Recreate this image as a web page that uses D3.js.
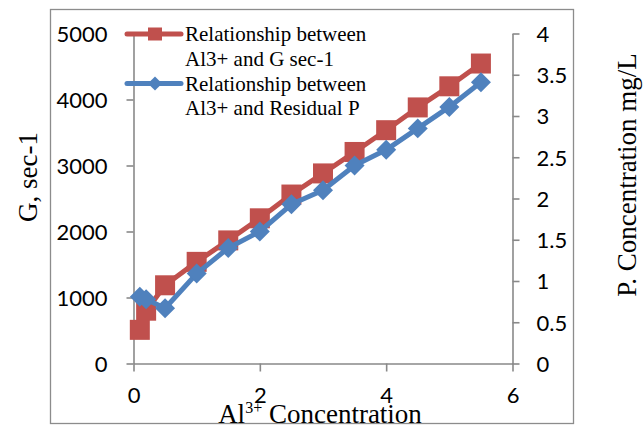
<!DOCTYPE html>
<html>
<head>
<meta charset="utf-8">
<script src="https://cdn.jsdelivr.net/npm/d3@7"></script>
<style>
  html, body { margin: 0; padding: 0; background: #fff; }
  svg { display: block; }
</style>
</head>
<body>
<div id="chart"></div>
<script>
// ---- data ----
const alConc = [0.1, 0.2, 0.5, 1, 1.5, 2, 2.5, 3, 3.5, 4, 4.5, 5, 5.5];
const gValues = [510, 800, 1185, 1540, 1865, 2200, 2560, 2880, 3205, 3535, 3880, 4200, 4545];
const pValues = [0.81, 0.78, 0.67, 1.09, 1.40, 1.60, 1.93, 2.10, 2.40, 2.59, 2.85, 3.11, 3.41];
const xTicks = [0, 2, 4, 6];
const leftTicks = [0, 1000, 2000, 3000, 4000, 5000];
const rightTicks = [0, 0.5, 1, 1.5, 2, 2.5, 3, 3.5, 4];
const seriesNames = [
  ["Relationship between", "Al3+ and G sec-1"],
  ["Relationship between", "Al3+ and Residual P"]
];

const W = 644, H = 427;
const red = "#C0504D", blue = "#4F81BD", axisCol = "#898989";
const tickFont = "Lato, 'Open Sans', sans-serif";
const serif = "'Liberation Serif', 'Times New Roman', serif";

const svg = d3.select("#chart").append("svg").attr("width", W).attr("height", H);

// chart border
svg.append("rect").attr("x", 50.5).attr("y", 9.5).attr("width", 523).attr("height", 414)
  .attr("fill", "none").attr("stroke", "#8c8c8c").attr("stroke-width", 1.3);

const x = d3.scaleLinear().domain([0, 6]).range([133.5, 512.5]);
const yL = d3.scaleLinear().domain([0, 5000]).range([363.5, 33.5]);
const yR = d3.scaleLinear().domain([0, 4]).range([363.5, 33.5]);

function styleAxis(g) {
  g.select(".domain").attr("stroke", axisCol).attr("stroke-width", 1.6);
  g.selectAll(".tick line").attr("stroke", axisCol).attr("stroke-width", 1.6);
  g.selectAll(".tick text").attr("fill", "#000").attr("font-family", tickFont).attr("font-size", 22);
}

// left axis
const gl = svg.append("g").attr("transform", `translate(${x(0)},0)`)
  .call(d3.axisLeft(yL).tickValues(leftTicks).tickSize(7).tickSizeOuter(0).tickPadding(19).tickFormat(d3.format("d")));
styleAxis(gl);
gl.selectAll(".tick text").attr("dy", "0.36em");

// right axis
const gr = svg.append("g").attr("transform", `translate(${x(6)},0)`)
  .call(d3.axisRight(yR).tickValues(rightTicks).tickSize(7).tickSizeOuter(0).tickPadding(17).tickFormat(d => String(d)));
styleAxis(gr);
gr.selectAll(".tick text").attr("dy", "0.36em");

// bottom axis
const gb = svg.append("g").attr("transform", `translate(0,${yL(0)})`)
  .call(d3.axisBottom(x).tickValues(xTicks).tickSize(8).tickSizeOuter(0).tickPadding(16).tickFormat(d3.format("d")));
styleAxis(gb);

// axis titles
svg.append("text").attr("transform", `translate(28,177) rotate(-90)`)
  .attr("text-anchor", "middle").attr("dominant-baseline", "central")
  .attr("font-family", serif).attr("font-size", 27).text("G, sec-1");

svg.append("text").attr("transform", `translate(627,175) rotate(-90)`)
  .attr("text-anchor", "middle").attr("dominant-baseline", "central")
  .attr("font-family", serif).attr("font-size", 27).text("P. Concentration mg/L");

const xt = svg.append("text").attr("x", 320).attr("y", 423).attr("text-anchor", "middle")
  .attr("font-family", serif).attr("font-size", 27);
xt.append("tspan").text("Al");
xt.append("tspan").attr("font-size", 16).attr("dy", -10).text("3+");
xt.append("tspan").attr("dy", 10).text(" Concentration");

// series
const lineG = d3.line().x((d, i) => x(alConc[i])).y(d => yL(d));
const lineP = d3.line().x((d, i) => x(alConc[i])).y(d => yR(d));

svg.append("path").datum(gValues).attr("d", lineG).attr("fill", "none")
  .attr("stroke", red).attr("stroke-width", 5).attr("stroke-linejoin", "round").attr("stroke-linecap", "round");
svg.append("g").selectAll("rect").data(gValues).join("rect")
  .attr("x", (d, i) => x(alConc[i]) - 10).attr("y", d => yL(d) - 10)
  .attr("width", 20).attr("height", 20).attr("fill", red);

svg.append("path").datum(pValues).attr("d", lineP).attr("fill", "none")
  .attr("stroke", blue).attr("stroke-width", 5).attr("stroke-linejoin", "round").attr("stroke-linecap", "round");
const diamond = d3.symbol().type(d3.symbolDiamond2).size(240);
svg.append("g").selectAll("path").data(pValues).join("path")
  .attr("transform", (d, i) => `translate(${x(alConc[i])},${yR(d)}) rotate(0)`)
  .attr("d", d3.symbol().type(d3.symbolSquare).size(200)())
  .attr("transform", (d, i) => `translate(${x(alConc[i])},${yR(d)}) rotate(45)`)
  .attr("fill", blue);

// legend
const leg = svg.append("g");
const legY = [34, 83.5];
const legCol = [red, blue];
legY.forEach((ly, k) => {
  leg.append("line").attr("x1", 127).attr("x2", 181).attr("y1", ly).attr("y2", ly)
    .attr("stroke", legCol[k]).attr("stroke-width", 5).attr("stroke-linecap", "round");
  if (k === 0) {
    leg.append("rect").attr("x", 148).attr("y", ly - 6.5).attr("width", 14).attr("height", 13).attr("fill", red);
  } else {
    leg.append("path").attr("transform", `translate(155,${ly}) rotate(45)`)
      .attr("d", d3.symbol().type(d3.symbolSquare).size(100)()).attr("fill", blue);
  }
  seriesNames[k].forEach((t, j) => {
    leg.append("text").attr("x", 185).attr("y", ly + 7 + j * 24.5)
      .attr("font-family", serif).attr("font-size", 21).attr("fill", "#000").text(t);
  });
});
</script>
</body>
</html>
